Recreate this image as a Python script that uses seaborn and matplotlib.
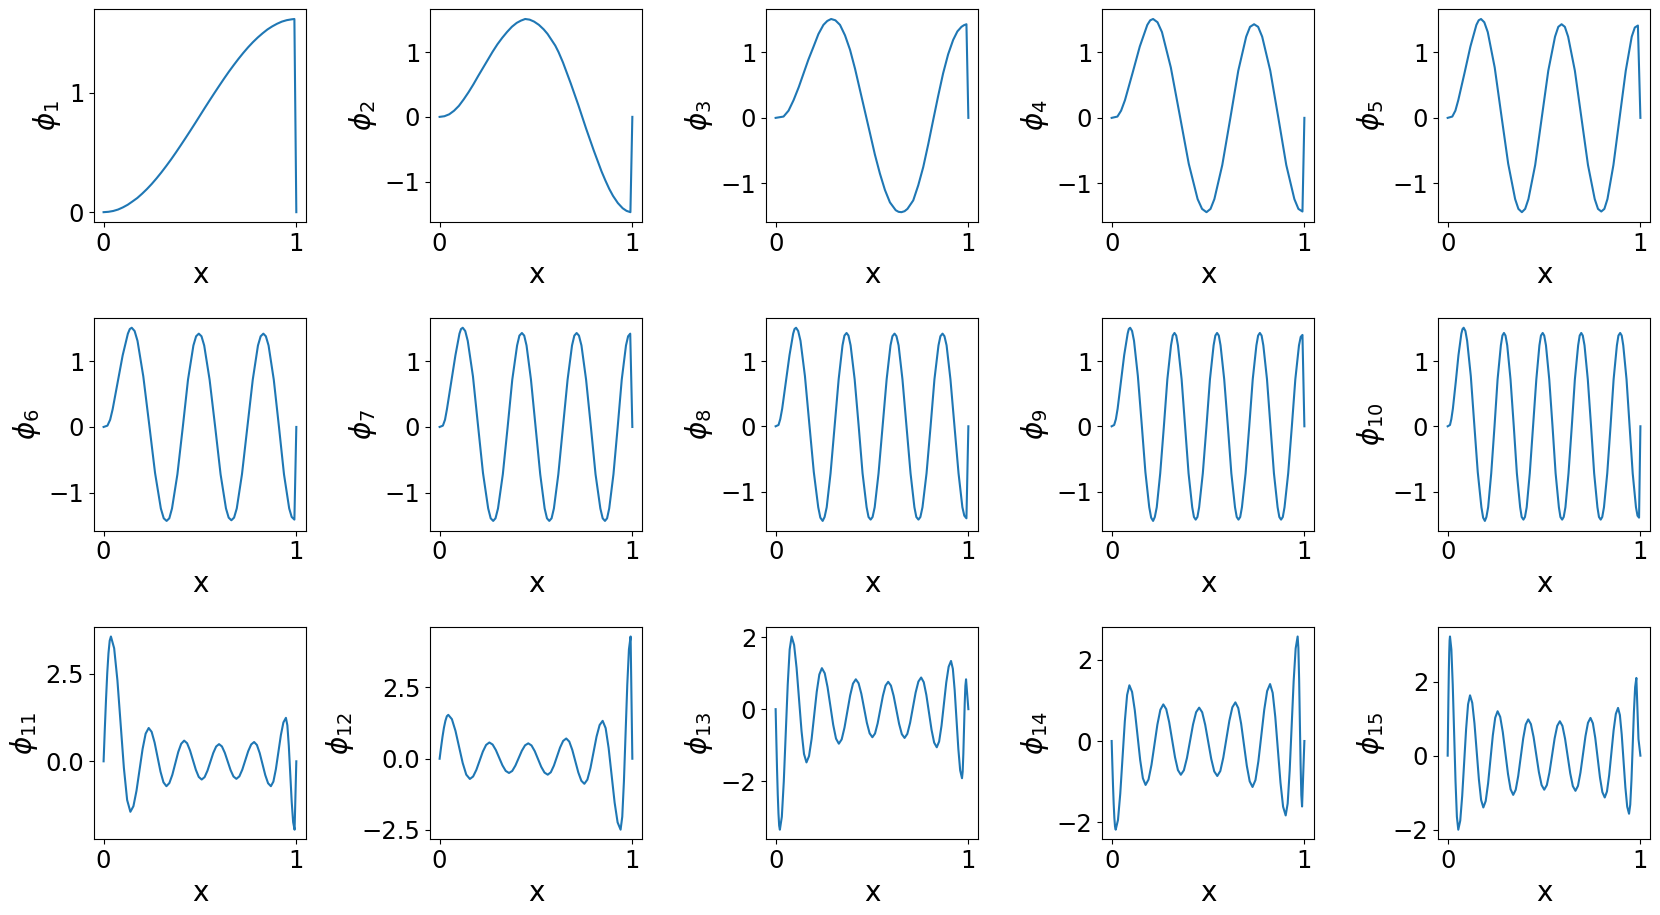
import matplotlib
matplotlib.use("Agg")
import matplotlib.pyplot as plt
import seaborn as sns

# basis functions phi_1 .. phi_15
x1 = [0, 0.025, 0.05, 0.075, 0.1, 0.125, 0.15, 0.175, 0.2, 0.225, 0.25, 0.275, 0.3, 0.325, 0.35, 0.375, 0.4, 0.425, 0.45, 0.475,
      0.5, 0.525, 0.55, 0.575, 0.6, 0.625, 0.65, 0.675, 0.7, 0.725, 0.75, 0.775, 0.8, 0.825, 0.85, 0.875, 0.9, 0.925, 0.95, 0.975,
      0.99, 1.0]
y1 = [0, 0.003, 0.01, 0.022, 0.04, 0.062, 0.09, 0.119, 0.155, 0.194, 0.237, 0.284, 0.334, 0.387, 0.442, 0.50, 0.56, 0.621, 0.683, 0.746,
      0.81, 0.874, 0.937, 0.999, 1.06, 1.12, 1.178, 1.233, 1.286, 1.336, 1.383, 1.426, 1.465, 1.50, 1.532, 1.558, 1.58, 1.598, 1.61, 1.617,
      1.62, 0]

x2 = [0, 0.025, 0.05, 0.075, 0.1, 0.125, 0.15, 0.175, 0.2, 0.225, 0.25, 0.275, 0.3, 0.325, 0.35, 0.375, 0.4, 0.422, 0.444, 0.467,
      0.49, 0.515, 0.54, 0.56, 0.58, 0.6, 0.617, 0.64, 0.66, 0.68, 0.70, 0.72, 0.74, 0.76, 0.78, 0.80, 0.82, 0.84, 0.86, 0.88,
      0.90, 0.925, 0.95, 0.97, 0.99, 1.0]
y2 = [0, 0.01, 0.04, 0.095, 0.17, 0.27, 0.38, 0.50, 0.63, 0.755, 0.88, 1.005, 1.12, 1.22, 1.31, 1.39, 1.45, 1.485, 1.51, 1.50,
      1.47, 1.42, 1.35, 1.28, 1.19, 1.10, 1.0, 0.84, 0.68, 0.52, 0.35, 0.18, 0.0, -0.18, -0.35, -0.52, -0.68, -0.84, -0.98, -1.11,
      -1.22, -1.33, -1.41, -1.45, -1.47, 0]

x3 = [0, 0.041, 0.067, 0.093, 0.12, 0.145, 0.17, 0.197, 0.222, 0.248, 0.268, 0.288, 0.31, 0.334, 0.36, 0.386, 0.412, 0.438, 0.464, 0.490,
      0.515, 0.541, 0.567, 0.593, 0.623, 0.638, 0.653, 0.669, 0.684, 0.714, 0.740, 0.766, 0.792, 0.817, 0.843, 0.869, 0.895, 0.921,
      0.943, 0.964, 0.977, 0.99, 1.0]
y3 = [0, 0.02, 0.11, 0.27, 0.47, 0.68, 0.89, 1.09, 1.28, 1.42, 1.48, 1.51, 1.49, 1.42, 1.26, 1.04, 0.75, 0.42, 0.09, -0.24,
      -0.56, -0.85, -1.10, -1.29, -1.41, -1.435, -1.44, -1.425, -1.39, -1.26, -1.03, -0.75, -0.40, -0.04, 0.33, 0.68, 0.97, 1.19,
      1.32, 1.39, 1.415, 1.43, 0]

x4 = [0, 0.030, 0.049, 0.069, 0.108, 0.146, 0.185, 0.200, 0.215,
      0.238, 0.261, 0.307, 0.354, 0.400, 0.446, 0.469, 0.492,
      0.513, 0.533, 0.574, 0.616, 0.657, 0.698, 0.718, 0.739,
      0.760, 0.781, 0.823, 0.865, 0.906, 0.948, 0.969, 0.990, 1.0]
y4 = [0, 0.02, 0.11, 0.27, 0.68, 1.09, 1.42, 1.49, 1.51,
      1.46, 1.31, 0.77, 0.03, -0.70, -1.24, -1.39, -1.44,
      -1.39, -1.24, -0.72, 0, 0.72, 1.24, 1.39, 1.43,
      1.39, 1.24, 0.72, 0, -0.72, -1.24, -1.39, -1.43, 0]

x5 = [0, 0.024, 0.040, 0.055, 0.087, 0.118, 0.149, 0.161, 0.173,
      0.190, 0.208, 0.244, 0.279, 0.314, 0.350, 0.367, 0.385,
      0.402, 0.419, 0.454, 0.488, 0.522, 0.557, 0.574, 0.591,
      0.608, 0.625, 0.660, 0.694, 0.728, 0.763, 0.780, 0.797,
      0.813, 0.829, 0.860, 0.892, 0.924, 0.955, 0.971, 0.987, 1.0]
y5 = [0, 0.02, 0.11, 0.27, 0.68, 1.09, 1.42, 1.49, 1.51,
      1.46, 1.31, 0.77, 0.03, -0.70, -1.24, -1.39, -1.44,
      -1.39, -1.24, -0.72, 0, 0.72, 1.24, 1.39, 1.43,
      1.39, 1.24, 0.72, 0, -0.72, -1.24, -1.39, -1.43,
      -1.39, -1.24, -0.72, 0, 0.72, 1.24, 1.38, 1.41, 0]

x6 = [0, 0.020, 0.034, 0.047, 0.073, 0.099, 0.126, 0.136, 0.146,
      0.161, 0.176, 0.206, 0.237, 0.267, 0.297, 0.312, 0.327,
      0.341, 0.355, 0.383, 0.411, 0.438, 0.466, 0.480, 0.494,
      0.508, 0.522, 0.550, 0.579, 0.607, 0.635, 0.649, 0.663,
      0.677, 0.691, 0.718, 0.746, 0.774, 0.801, 0.815, 0.829,
      0.842, 0.856, 0.883, 0.910, 0.936, 0.963, 0.976, 0.990, 1.0]
y6 = [0, 0.02, 0.11, 0.27, 0.68, 1.09, 1.42, 1.49, 1.51,
      1.46, 1.31, 0.77, 0.03, -0.70, -1.24, -1.39, -1.43,
      -1.39, -1.24, -0.72, 0, 0.72, 1.24, 1.38, 1.42,
      1.38, 1.24, 0.72, 0, -0.72, -1.24, -1.38, -1.42,
      -1.38, -1.24, -0.72, 0, 0.72, 1.24, 1.38, 1.42,
      1.38, 1.24, 0.72, 0, -0.72, -1.24, -1.37, -1.41, 0]

x7 = [0, 0.017, 0.028, 0.038, 0.060, 0.082, 0.103, 0.111, 0.120,
      0.133, 0.146, 0.173, 0.199, 0.225, 0.252, 0.265, 0.278,
      0.290, 0.303, 0.328, 0.353, 0.377, 0.402, 0.414, 0.427,
      0.439, 0.451, 0.474, 0.498, 0.522, 0.545, 0.557, 0.569,
      0.581, 0.593, 0.616, 0.640, 0.664, 0.687, 0.699, 0.711,
      0.723, 0.736, 0.760, 0.785, 0.809, 0.834, 0.846, 0.858,
      0.869, 0.880, 0.902, 0.924, 0.945, 0.967, 0.978, 0.989, 1.0]
y7 = [0, 0.02, 0.11, 0.27, 0.68, 1.09, 1.42, 1.49, 1.51,
      1.46, 1.31, 0.77, 0.03, -0.70, -1.24, -1.39, -1.43,
      -1.39, -1.24, -0.72, 0, 0.72, 1.24, 1.39, 1.43,
      1.39, 1.24, 0.72, 0, -0.72, -1.24, -1.39, -1.43,
      -1.39, -1.24, -0.72, 0, 0.72, 1.24, 1.39, 1.43,
      1.39, 1.24, 0.72, 0, -0.72, -1.24, -1.39, -1.43,
      -1.39, -1.24, -0.72, 0, 0.72, 1.24, 1.38, 1.42, 0]

x8 = [0, 0.015, 0.024, 0.034, 0.053, 0.072, 0.091, 0.098, 0.106,
      0.117, 0.129, 0.152, 0.175, 0.198, 0.221, 0.232, 0.244,
      0.254, 0.265, 0.285, 0.306, 0.327, 0.347, 0.357, 0.368,
      0.378, 0.389, 0.410, 0.431, 0.451, 0.472, 0.482, 0.493,
      0.503, 0.514, 0.534, 0.555, 0.576, 0.596, 0.606, 0.617,
      0.627, 0.638, 0.658, 0.679, 0.700, 0.720, 0.730, 0.741,
      0.751, 0.762, 0.783, 0.804, 0.824, 0.845, 0.855, 0.866,
      0.876, 0.887, 0.907, 0.928, 0.949, 0.969, 0.979, 0.990, 1.0]
y8 = [0, 0.02, 0.11, 0.27, 0.68, 1.09, 1.42, 1.49, 1.51,
      1.46, 1.31, 0.77, 0.03, -0.70, -1.24, -1.40, -1.45,
      -1.39, -1.24, -0.72, 0, 0.72, 1.24, 1.39, 1.43,
      1.39, 1.24, 0.72, 0, -0.72, -1.24, -1.39, -1.43,
      -1.39, -1.24, -0.72, 0, 0.72, 1.24, 1.38, 1.42,
      1.38, 1.24, 0.72, 0, -0.72, -1.24, -1.39, -1.43,
      -1.39, -1.24, -0.72, 0, 0.72, 1.24, 1.38, 1.42,
      1.38, 1.24, 0.72, 0, -0.72, -1.24, -1.37, -1.41, 0]

x9 = [0, 0.013, 0.022, 0.031, 0.048, 0.065, 0.083, 0.089, 0.096,
      0.106, 0.116, 0.136, 0.156, 0.175, 0.195, 0.205, 0.215,
      0.224, 0.234, 0.252, 0.271, 0.289, 0.308, 0.317, 0.326,
      0.335, 0.344, 0.363, 0.381, 0.399, 0.418, 0.427, 0.436,
      0.445, 0.454, 0.473, 0.492, 0.510, 0.529, 0.538, 0.547,
      0.556, 0.565, 0.584, 0.603, 0.621, 0.640, 0.649, 0.658,
      0.667, 0.676, 0.695, 0.714, 0.732, 0.751, 0.760, 0.769,
      0.778, 0.787, 0.806, 0.824, 0.842, 0.861, 0.870, 0.879,
      0.888, 0.897, 0.916, 0.935, 0.953, 0.972, 0.981, 0.990, 1.0]
y9 = [0, 0.02, 0.11, 0.27, 0.68, 1.09, 1.42, 1.49, 1.51,
      1.46, 1.31, 0.77, 0.03, -0.70, -1.24, -1.40, -1.45,
      -1.39, -1.24, -0.72, 0, 0.72, 1.24, 1.39, 1.43,
      1.39, 1.24, 0.72, 0, -0.72, -1.24, -1.39, -1.43,
      -1.39, -1.24, -0.72, 0, 0.72, 1.24, 1.39, 1.43,
      1.39, 1.24, 0.72, 0, -0.72, -1.24, -1.39, -1.43,
      -1.39, -1.24, -0.72, 0, 0.72, 1.24, 1.39, 1.43,
      1.39, 1.24, 0.72, 0, -0.72, -1.24, -1.39, -1.43,
      -1.39, -1.24, -0.72, 0, 0.72, 1.24, 1.37, 1.40, 0]

x10 = [0, 0.012, 0.019, 0.027, 0.042, 0.056, 0.071, 0.077, 0.083,
       0.092, 0.101, 0.120, 0.138, 0.156, 0.175, 0.184, 0.193,
       0.201, 0.210, 0.226, 0.243, 0.259, 0.276, 0.284, 0.292,
       0.300, 0.309, 0.326, 0.343, 0.359, 0.376, 0.384, 0.393,
       0.401, 0.410, 0.426, 0.443, 0.460, 0.476, 0.484, 0.493,
       0.501, 0.510, 0.527, 0.544, 0.560, 0.577, 0.585, 0.594,
       0.602, 0.611, 0.627, 0.644, 0.660, 0.677, 0.685, 0.693,
       0.701, 0.710, 0.727, 0.744, 0.760, 0.777, 0.785, 0.794,
       0.802, 0.811, 0.828, 0.845, 0.861, 0.878, 0.886, 0.895,
       0.903, 0.911, 0.928, 0.944, 0.960, 0.977, 0.985, 0.993, 1.0]
y10 = [0, 0.02, 0.11, 0.27, 0.68, 1.09, 1.42, 1.49, 1.51,
       1.46, 1.31, 0.77, 0.03, -0.70, -1.24, -1.40, -1.45,
       -1.39, -1.24, -0.72, 0, 0.72, 1.24, 1.39, 1.43,
       1.39, 1.24, 0.72, 0, -0.72, -1.24, -1.39, -1.43,
       -1.39, -1.24, -0.72, 0, 0.72, 1.24, 1.39, 1.43,
       1.39, 1.24, 0.72, 0, -0.72, -1.24, -1.39, -1.43,
       -1.39, -1.24, -0.72, 0, 0.72, 1.24, 1.39, 1.43,
       1.39, 1.24, 0.72, 0, -0.72, -1.24, -1.39, -1.43,
       -1.39, -1.24, -0.72, 0, 0.72, 1.24, 1.39, 1.43,
       1.39, 1.24, 0.72, 0, -0.72, -1.24, -1.37, -1.40, 0]

x11 = [0, 0.0063, 0.0127, 0.019, 0.0253, 0.0317, 0.038,
       0.0548, 0.0717, 0.0885, 0.1053, 0.1222, 0.139,
       0.1548, 0.1707, 0.1865, 0.2023, 0.2182, 0.234,
       0.2493, 0.2647, 0.280, 0.2953, 0.3107, 0.326,
       0.3413, 0.3567, 0.372, 0.3873, 0.4027, 0.418,
       0.4332, 0.4483, 0.4635, 0.4787, 0.4938, 0.509,
       0.524, 0.539, 0.554, 0.569, 0.584, 0.599,
       0.614, 0.629, 0.644, 0.659, 0.674, 0.689,
       0.7043, 0.7197, 0.735, 0.7503, 0.7657, 0.781,
       0.7955, 0.810, 0.8245, 0.839, 0.8535, 0.868,
       0.881, 0.894, 0.907, 0.920, 0.933, 0.946,
       0.9535, 0.961, 0.9685, 0.976, 0.9835, 0.991, 1.0]
y11 = [0, 0.92, 1.78, 2.52, 3.08, 3.44, 3.56,
       3.225, 2.31, 1.06, -0.19, -1.105, -1.44,
       -1.28, -0.84, -0.245, 0.35, 0.79, 0.95,
       0.84, 0.535, 0.12, -0.295, -0.60, -0.71,
       -0.62, -0.385, -0.06, 0.265, 0.50, 0.59,
       0.516, 0.3125, 0.035, -0.2425, -0.446, -0.52,
       -0.452, -0.2675, -0.015, 0.2375, 0.422, 0.49,
       0.424, 0.2425, -0.005, -0.2525, -0.434, -0.50,
       -0.43, -0.2375, 0.025, 0.2875, 0.48, 0.55,
       0.466, 0.235, -0.08, -0.395, -0.626, -0.71,
       -0.579, -0.2225, 0.265, 0.7525, 1.109, 1.24,
       1.026, 0.4425, -0.355, -1.1525, -1.736, -1.95, 0]

x12 = [0, 0.0075, 0.015, 0.0225, 0.030, 0.0375, 0.045,
       0.0637, 0.0823, 0.101, 0.1197, 0.1383, 0.157,
       0.1738, 0.1907, 0.2075, 0.2243, 0.2412, 0.258,
       0.275, 0.292, 0.309, 0.326, 0.343, 0.360,
       0.3767, 0.3933, 0.41, 0.4267, 0.4433, 0.460,
       0.4768, 0.4937, 0.5105, 0.5273, 0.5442, 0.561,
       0.577, 0.593, 0.609, 0.625, 0.641, 0.657,
       0.6727, 0.6883, 0.704, 0.7197, 0.7353, 0.751,
       0.7668, 0.7827, 0.7985, 0.8143, 0.8302, 0.846,
       0.8615, 0.877, 0.8925, 0.908, 0.9235, 0.939,
       0.9477, 0.9563, 0.965, 0.9737, 0.9823, 0.991, 1.0]
y12 = [0, 0.40, 0.77, 1.09, 1.33, 1.49, 1.54,
       1.389, 0.978, 0.415, -0.148, -0.559, -0.71,
       -0.624, -0.39, -0.07, 0.25, 0.484, 0.57,
       0.498, 0.3025, 0.035, -0.2325, -0.428, -0.50,
       -0.43, -0.24, 0.02, 0.28, 0.47, 0.54,
       0.466, 0.265, -0.01, -0.285, -0.486, -0.56,
       -0.475, -0.2425, 0.075, 0.3925, 0.625, 0.71,
       0.603, 0.3125, -0.085, -0.4825, -0.773, -0.88,
       -0.732, -0.3275, 0.225, 0.7775, 1.182, 1.33,
       1.074, 0.375, -0.58, -1.535, -2.234, -2.49,
       -2.036, -0.795, 0.90, 2.595, 3.836, 4.29, 0]

x13 = [0, 0.0037, 0.0073, 0.011, 0.0147, 0.0183, 0.022,
       0.0322, 0.0423, 0.0525, 0.0627, 0.0728, 0.083,
       0.0958, 0.1087, 0.1215, 0.1343, 0.1472, 0.160,
       0.1733, 0.1867, 0.20, 0.2133, 0.2267, 0.240,
       0.2547, 0.2693, 0.284, 0.2987, 0.3133, 0.328,
       0.3427, 0.3573, 0.372, 0.3867, 0.4013, 0.416,
       0.4303, 0.4447, 0.459, 0.4733, 0.4877, 0.502,
       0.5157, 0.5293, 0.543, 0.5567, 0.5703, 0.584,
       0.5982, 0.6123, 0.6265, 0.6407, 0.6548, 0.669,
       0.6833, 0.6977, 0.712, 0.7263, 0.7407, 0.755,
       0.7685, 0.782, 0.7955, 0.809, 0.8225, 0.836,
       0.8483, 0.8607, 0.873, 0.8853, 0.8977, 0.910,
       0.9195, 0.929, 0.9385, 0.948, 0.9575, 0.967,
       0.9705, 0.974, 0.9775, 0.981, 0.9845, 0.988, 1.0]
y13 = [0, -0.87, -1.675, -2.37, -2.90, -3.24, -3.35,
       -2.99, -2.0075, -0.665, 0.6775, 1.66, 2.02,
       1.786, 1.145, 0.27, -0.605, -1.246, -1.48,
       -1.304, -0.825, -0.17, 0.485, 0.964, 1.14,
       0.999, 0.615, 0.09, -0.435, -0.819, -0.96,
       -0.84, -0.5125, -0.065, 0.3825, 0.71, 0.83,
       0.722, 0.4275, 0.025, -0.3775, -0.672, -0.78,
       -0.677, -0.395, -0.01, 0.375, 0.657, 0.76,
       0.655, 0.37, -0.02, -0.41, -0.695, -0.80,
       -0.687, -0.38, 0.04, 0.46, 0.767, 0.88,
       0.75, 0.395, -0.09, -0.575, -0.93, -1.06,
       -0.899, -0.46, 0.14, 0.74, 1.179, 1.34,
       1.122, 0.525, -0.29, -1.105, -1.702, -1.92,
       -1.736, -1.2325, -0.545, 0.1425, 0.646, 0.83, 0]

x14 = [0, 0.0035, 0.007, 0.0105, 0.014, 0.0175, 0.021,
       0.0328, 0.0447, 0.0565, 0.0683, 0.0802, 0.092,
       0.106, 0.120, 0.134, 0.148, 0.162, 0.176,
       0.1913, 0.2067, 0.222, 0.2373, 0.2527, 0.268,
       0.2832, 0.2983, 0.3135, 0.3287, 0.3438, 0.359,
       0.3748, 0.3907, 0.4065, 0.4223, 0.4382, 0.454,
       0.4697, 0.4853, 0.501, 0.5167, 0.5323, 0.548,
       0.5637, 0.5793, 0.595, 0.6107, 0.6263, 0.642,
       0.6568, 0.6717, 0.6865, 0.7013, 0.7162, 0.731,
       0.7462, 0.7613, 0.7765, 0.7917, 0.8068, 0.822,
       0.8355, 0.849, 0.8625, 0.876, 0.8895, 0.903,
       0.9133, 0.9237, 0.934, 0.9443, 0.9547, 0.965,
       0.9688, 0.9727, 0.9765, 0.9803, 0.9842, 0.988, 1.0]
y14 = [0, -0.565, -1.09, -1.54, -1.888, -2.106, -2.18,
       -1.942, -1.2925, -0.405, 0.4825, 1.132, 1.37,
       1.206, 0.7575, 0.145, -0.4675, -0.916, -1.08,
       -0.947, -0.585, -0.09, 0.405, 0.767, 0.90,
       0.784, 0.4675, 0.035, -0.3975, -0.714, -0.83,
       -0.719, -0.4175, -0.005, 0.4075, 0.709, 0.82,
       0.707, 0.40, -0.02, -0.44, -0.747, -0.86,
       -0.739, -0.4075, 0.045, 0.4975, 0.829, 0.95,
       0.811, 0.43, -0.09, -0.61, -0.991, -1.13,
       -0.96, -0.4975, 0.135, 0.7675, 1.23, 1.40,
       1.184, 0.5925, -0.215, -1.0225, -1.614, -1.83,
       -1.535, -0.73, 0.37, 1.47, 2.275, 2.57,
       2.29, 1.525, 0.48, -0.565, -1.33, -1.61, 0]

x15 = [0, 0.002, 0.004, 0.006, 0.008, 0.010, 0.012,
       0.0192, 0.0263, 0.0335, 0.0407, 0.0478, 0.055,
       0.0652, 0.0753, 0.0855, 0.0957, 0.1058, 0.116,
       0.1275, 0.139, 0.1505, 0.162, 0.1735, 0.185,
       0.1973, 0.2097, 0.222, 0.2343, 0.2467, 0.259,
       0.2725, 0.286, 0.2995, 0.313, 0.3265, 0.340,
       0.353, 0.366, 0.379, 0.392, 0.405, 0.418,
       0.4318, 0.4457, 0.4595, 0.4733, 0.4872, 0.501,
       0.5145, 0.528, 0.5415, 0.555, 0.5685, 0.582,
       0.5955, 0.609, 0.6225, 0.636, 0.6495, 0.663,
       0.676, 0.689, 0.702, 0.715, 0.728, 0.741,
       0.7533, 0.7657, 0.778, 0.7903, 0.8027, 0.815,
       0.8265, 0.838, 0.8495, 0.861, 0.8725, 0.884,
       0.8935, 0.903, 0.9125, 0.922, 0.9315, 0.941,
       0.9473, 0.9537, 0.960, 0.9663, 0.9727, 0.979, 0.99, 1.0]
y15 = [0, 0.834, 1.61, 2.277, 2.789, 3.111, 3.22,
       2.87, 1.915, 0.61, -0.695, -1.65, -2.00,
       -1.757, -1.0925, -0.185, 0.7225, 1.387, 1.63,
       1.427, 0.8725, 0.115, -0.6425, -1.197, -1.40,
       -1.226, -0.75, -0.10, 0.55, 1.026, 1.20,
       1.049, 0.635, 0.07, -0.495, -0.909, -1.06,
       -0.923, -0.55, -0.04, 0.47, 0.843, 0.98,
       0.853, 0.505, 0.03, -0.445, -0.793, -0.92,
       -0.796, -0.4575, 0.005, 0.4675, 0.806, 0.93,
       0.804, 0.46, -0.01, -0.48, -0.824, -0.95,
       -0.818, -0.4575, 0.035, 0.5275, 0.888, 1.02,
       0.876, 0.4825, -0.055, -0.5925, -0.986, -1.13,
       -0.968, -0.525, 0.08, 0.685, 1.128, 1.29,
       1.098, 0.575, -0.14, -0.855, -1.378, -1.57,
       -1.324, -0.6525, 0.265, 1.1825, 1.854, 2.10, 0.45, 0]

xs = [x1, x2, x3, x4, x5, x6, x7, x8, x9, x10, x11, x12, x13, x14, x15]
ys = [y1, y2, y3, y4, y5, y6, y7, y8, y9, y10, y11, y12, y13, y14, y15]

# y tick positions shown in each panel
yticks = [[0, 1]] + [[-1, 0, 1]] * 9 + [[0.0, 2.5], [-2.5, 0.0, 2.5], [-2, 0, 2], [-2, 0, 2], [-2, 0, 2]]

fig, axes = plt.subplots(3, 5, figsize=(16.6, 9.15), dpi=100)
fig.subplots_adjust(left=0.0566, right=0.994, top=0.9898, bottom=0.0827, wspace=0.585, hspace=0.453)

for k, ax in enumerate(axes.flat):
    sns.lineplot(x=xs[k], y=ys[k], ax=ax, color="#1f77b4", linewidth=1.5)
    ax.set_xticks([0, 1])
    ax.set_yticks(yticks[k])
    ax.set_xlabel("x", fontsize=20)
    ax.set_ylabel(r"$\phi_{%d}$" % (k + 1), fontsize=20)
    ax.tick_params(labelsize=17.5)

fig.savefig("out.png", dpi=100)
